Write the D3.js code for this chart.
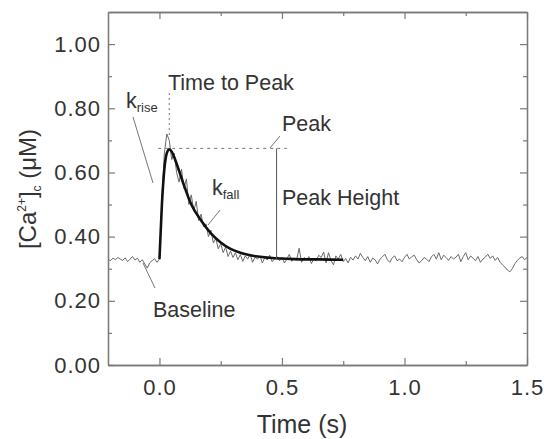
<!DOCTYPE html>
<html><head><meta charset="utf-8">
<script src="https://cdn.jsdelivr.net/npm/d3@7"></script>
<style>
body{margin:0;background:#fff;}
svg{font-family:"Liberation Sans",Arial,sans-serif;}
</style></head><body>
<svg id="c" width="544" height="439"></svg>
<script>
// ---- data ----
const xTicks = [0.0, 0.5, 1.0, 1.5];
const xMinorTicks = [0.25, 0.75, 1.25];
const yTicks = [0.0, 0.2, 0.4, 0.6, 0.8, 1.0];
const yMinorTicks = [0.1, 0.3, 0.5, 0.7, 0.9];
const xTickLabels = ["0.0", "0.5", "1.0", "1.5"];
const yTickLabels = ["0.00", "0.20", "0.40", "0.60", "0.80", "1.00"];

// raw trace, sampled every 0.01 s starting at t = -0.21
const traceStart = -0.21, traceStep = 0.01;
const traceValues = [
 0.330,0.325,0.333,0.328,0.335,0.330,0.326,0.334,0.322,0.330,0.338,0.327,0.333,0.320,0.328,0.315,0.302,0.318,0.325,0.331,0.320,
 0.330,0.520,0.660,0.720,0.700,0.640,0.660,0.600,0.570,0.610,0.550,0.580,0.500,0.530,0.480,0.510,0.450,0.470,0.430,0.440,
 0.400,0.420,0.380,0.395,0.362,0.378,0.350,0.368,0.338,0.355,0.335,0.350,0.328,0.344,0.323,0.340,0.330,0.346,0.320,0.336,
 0.330,0.340,0.318,0.335,0.327,0.342,0.322,0.332,0.338,0.325,0.336,0.318,0.330,0.345,0.323,0.333,0.328,0.364,0.320,0.335,
 0.328,0.338,0.316,0.330,0.325,0.342,0.335,0.352,0.318,0.350,0.326,0.312,0.340,0.330,0.345,0.322,0.332,0.318,0.336,0.327,
 0.340,0.330,0.348,0.335,0.325,0.338,0.320,0.333,0.328,0.315,0.330,0.337,0.345,0.328,0.320,0.334,0.340,0.325,0.330,0.322,
 0.335,0.345,0.330,0.338,0.342,0.328,0.318,0.325,0.335,0.330,0.322,0.337,0.345,0.330,0.350,0.328,0.342,0.335,0.326,0.338,
 0.330,0.336,0.345,0.322,0.338,0.350,0.328,0.340,0.333,0.325,0.338,0.320,0.330,0.336,0.345,0.332,0.340,0.326,0.335,0.320,
 0.312,0.305,0.296,0.290,0.300,0.315,0.325,0.333,0.338,0.328,0.335
];

// fitted curve
const fitTimes  = [0.00,0.01,0.02,0.03,0.04,0.05,0.06,0.08,0.10,0.13,0.17,0.21,0.25,0.29,0.33,0.37,0.45,0.55,0.65,0.75];
const fitValues = [0.33,0.50,0.61,0.66,0.672,0.665,0.648,0.605,0.560,0.500,0.450,0.410,0.382,0.362,0.350,0.342,0.334,0.330,0.329,0.328];

// annotation markers (data units)
const peakTime = 0.04, peakValue = 0.675, baselineValue = 0.33;

// ---- layout ----
const svg = d3.select("#c");
const L = 108, R = 527, T = 12, B = 365;
const x = d3.scaleLinear().domain([-0.21, 1.5]).range([L, R]);
const y = d3.scaleLinear().domain([0, 1.1]).range([B, T]);
const frameColor = "#7a7a7a", textColor = "#333";

const fmtX = (d) => xTickLabels[xTicks.indexOf(d)];
const fmtY = (d) => yTickLabels[yTicks.findIndex(v => Math.abs(v - d) < 1e-9)];

function styleAxis(g){
  g.selectAll(".domain").attr("stroke", frameColor).attr("stroke-width", 1.3);
  g.selectAll(".tick line").attr("stroke", frameColor).attr("stroke-width", 1.2);
  g.selectAll(".tick text").attr("fill", textColor).attr("font-size", 22).attr("letter-spacing", 1)
    .attr("font-family", "Liberation Sans, Arial, sans-serif");
}
svg.append("g").attr("transform", `translate(0,${B})`)
  .call(d3.axisBottom(x).tickValues(xTicks).tickFormat(fmtX).tickSize(-7).tickPadding(14).tickSizeOuter(0))
  .call(styleAxis);
svg.append("g").attr("transform", `translate(0,${B})`)
  .call(d3.axisBottom(x).tickValues(xMinorTicks).tickFormat("").tickSize(-4).tickSizeOuter(0))
  .call(styleAxis);
svg.append("g").attr("transform", `translate(0,${T})`)
  .call(d3.axisTop(x).tickValues(xTicks).tickFormat("").tickSize(-7).tickSizeOuter(0))
  .call(styleAxis);
svg.append("g").attr("transform", `translate(0,${T})`)
  .call(d3.axisTop(x).tickValues(xMinorTicks).tickFormat("").tickSize(-4).tickSizeOuter(0))
  .call(styleAxis);
svg.append("g").attr("transform", `translate(${L},0)`)
  .call(d3.axisLeft(y).tickValues(yTicks).tickFormat(fmtY).tickSize(-7).tickPadding(7).tickSizeOuter(0))
  .call(styleAxis);
svg.append("g").attr("transform", `translate(${L},0)`)
  .call(d3.axisLeft(y).tickValues(yMinorTicks).tickFormat("").tickSize(-4).tickSizeOuter(0))
  .call(styleAxis);
svg.append("g").attr("transform", `translate(${R},0)`)
  .call(d3.axisRight(y).tickValues(yTicks).tickFormat("").tickSize(-7).tickSizeOuter(0))
  .call(styleAxis);
svg.append("g").attr("transform", `translate(${R},0)`)
  .call(d3.axisRight(y).tickValues(yMinorTicks).tickFormat("").tickSize(-4).tickSizeOuter(0))
  .call(styleAxis);

// axis titles
svg.append("text").attr("x", 302).attr("y", 433).attr("text-anchor", "middle")
  .attr("font-size", 25).attr("fill", textColor).text("Time (s)");
const yl = svg.append("text").attr("transform", "translate(36,189) rotate(-90)")
  .attr("text-anchor", "middle").attr("font-size", 24).attr("fill", textColor);
yl.append("tspan").text("[Ca");
yl.append("tspan").attr("font-size", 12).attr("dy", -10).text("2+");
yl.append("tspan").attr("dy", 10).text("]");
yl.append("tspan").attr("font-size", 12).attr("dy", 5).text("c");
yl.append("tspan").attr("dy", -5).text(" (μM)");

// raw trace
const traceData = traceValues.map((v, i) => ({t: traceStart + i * traceStep, v}));
const line = d3.line().x(d => x(d.t)).y(d => y(d.v));
svg.append("path").datum(traceData).attr("d", line)
  .attr("fill", "none").attr("stroke", "#6a6a6a").attr("stroke-width", 1);

// fit curve
const fitData = fitTimes.map((t, i) => ({t, v: fitValues[i]}));
svg.append("path").datum(fitData).attr("d", d3.line().curve(d3.curveMonotoneX).x(d => x(d.t)).y(d => y(d.v)))
  .attr("fill", "none").attr("stroke", "#111").attr("stroke-width", 2.6);

// annotations
const ann = svg.append("g").attr("stroke", "#777").attr("stroke-width", 1).attr("fill", "none");
ann.append("line").attr("x1", x(peakTime)).attr("x2", x(peakTime)).attr("y1", 93).attr("y2", y(peakValue) - 12)
  .attr("stroke-dasharray", "2,3");
ann.append("line").attr("x1", x(-0.005)).attr("x2", x(0.52)).attr("y1", y(peakValue)).attr("y2", y(peakValue))
  .attr("stroke-dasharray", "3,4");
ann.append("line").attr("x1", x(0.478)).attr("x2", x(0.478)).attr("y1", y(peakValue)).attr("y2", y(baselineValue))
  .attr("stroke", "#555");
ann.append("line").attr("x1", 133).attr("y1", 117).attr("x2", 153).attr("y2", 183);
ann.append("line").attr("x1", 143).attr("y1", 263).attr("x2", 155).attr("y2", 288);
ann.append("line").attr("x1", 220).attr("y1", 210).attr("x2", 208).attr("y2", 225);
ann.append("line").attr("x1", 280).attr("y1", 136).attr("x2", 270).attr("y2", 148);

const lab = svg.append("g").attr("fill", textColor).attr("font-size", 21.5);
lab.append("text").attr("x", 168).attr("y", 90).text("Time to Peak");
lab.append("text").attr("x", 282).attr("y", 131).text("Peak");
lab.append("text").attr("x", 282).attr("y", 205).text("Peak Height");
lab.append("text").attr("x", 153).attr("y", 317).text("Baseline");
const kr = lab.append("text").attr("x", 126).attr("y", 108);
kr.append("tspan").text("k");
kr.append("tspan").attr("font-size", 13).attr("dy", 4).text("rise");
const kf = lab.append("text").attr("x", 212).attr("y", 195);
kf.append("tspan").text("k");
kf.append("tspan").attr("font-size", 13).attr("dy", 4).text("fall");
</script>
</body></html>
